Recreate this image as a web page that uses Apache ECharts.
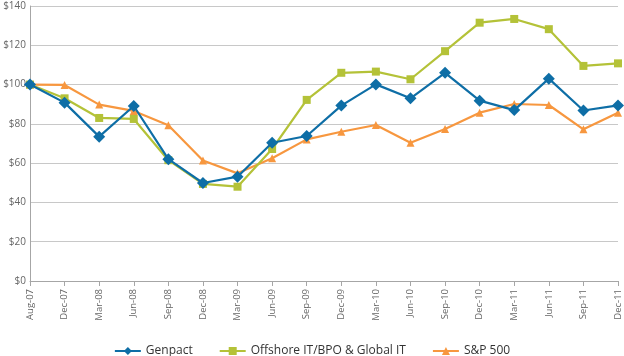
<!DOCTYPE html>
<html><head><meta charset="utf-8">
<script src="https://cdn.jsdelivr.net/npm/echarts@6/dist/echarts.min.js"></script>
<style>html,body{margin:0;padding:0;background:#fff}#c{width:624px;height:356px}</style>
</head><body><div id="c"></div>
<script>
const categories = ['Aug-07','Dec-07','Mar-08','Jun-08','Sep-08','Dec-08','Mar-09','Jun-09','Sep-09','Dec-09','Mar-10','Jun-10','Sep-10','Dec-10','Mar-11','Jun-11','Sep-11','Dec-11'];
const genpact = [100, 90.8, 73.5, 89.1, 62, 49.9, 53.1, 70.4, 73.8, 89.3, 100.1, 93, 106, 91.8, 87, 103, 86.8, 89.4];
const offshore = [100, 93, 83, 82.5, 61.5, 49.4, 48, 67.2, 92.2, 106, 106.6, 102.7, 117, 131.5, 133.4, 128.2, 109.5, 110.8];
const sp500 = [100, 99.8, 89.8, 86.6, 79.3, 61.3, 54.8, 62.5, 72.1, 76, 79.4, 70.4, 77.4, 85.7, 90.1, 89.6, 77.2, 85.7];
const yTicks = [0, 20, 40, 60, 80, 100, 120, 140];
const seriesNames = ['Genpact', 'Offshore IT/BPO & Global IT', 'S&P 500'];

const colors = ['#0e6ea6', '#b4c238', '#f7973f'];
const chart = echarts.init(document.getElementById('c'));
const font = '"Open Sans", "Noto Sans", sans-serif';
chart.setOption({
  animation: false,
  color: colors,
  textStyle: {fontFamily: font},
  grid: {left: 30, right: 6, top: 6, bottom: 75},
  legend: {
    top: 340, left: 'center', itemGap: 26, itemWidth: 26, itemHeight: 10,
    textStyle: {fontSize: 12, color: '#333', fontFamily: font},
    data: seriesNames
  },
  xAxis: {
    type: 'category', data: categories, boundaryGap: false,
    axisLine: {lineStyle: {color: '#a6a6a6'}},
    axisTick: {show: true, length: 5, lineStyle: {color: '#a6a6a6'}},
    axisLabel: {rotate: 90, fontSize: 9.5, color: '#666', margin: 8, interval: 0}
  },
  yAxis: {
    type: 'value', min: yTicks[0], max: yTicks[yTicks.length - 1], interval: 20,
    axisLine: {show: true, lineStyle: {color: '#a6a6a6'}},
    axisTick: {show: false},
    splitLine: {lineStyle: {color: '#c8c8c8', width: 1}},
    axisLabel: {fontSize: 10, color: '#666', margin: 4, formatter: v => '$' + v}
  },
  series: [
    {name: seriesNames[1], type: 'line', data: offshore, symbol: 'rect', symbolSize: 8, lineStyle: {width: 2.2}, z: 2},
    {name: seriesNames[2], type: 'line', data: sp500, symbol: 'triangle', symbolSize: 8, lineStyle: {width: 2.2}, z: 1},
    {name: seriesNames[0], type: 'line', data: genpact, symbol: 'diamond', symbolSize: 12, lineStyle: {width: 2.2}, z: 3}
  ].map(s => Object.assign(s, {itemStyle: {color: colors[seriesNames.indexOf(s.name)]}, color: colors[seriesNames.indexOf(s.name)]}))
});
</script></body></html>
